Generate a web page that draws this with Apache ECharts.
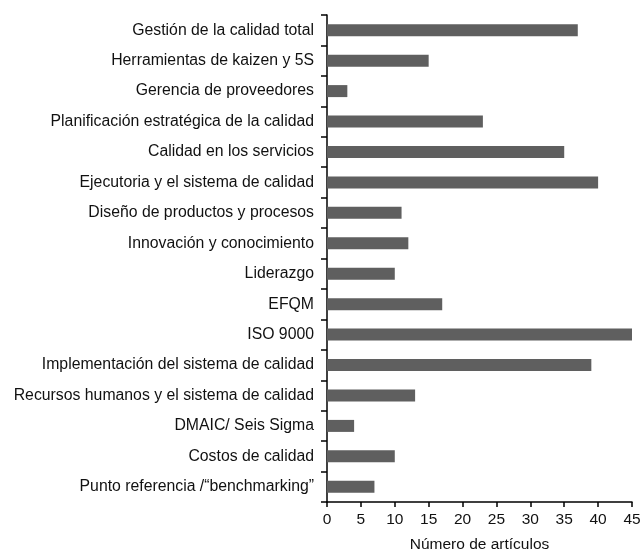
<!DOCTYPE html>
<html>
<head>
<meta charset="utf-8">
<script src="https://cdn.jsdelivr.net/npm/echarts@6/dist/echarts.min.js"></script>
<style>
html, body { margin: 0; padding: 0; background: #fff; }
#main { width: 643px; height: 550px; }
</style>
</head>
<body>
<div id="main"></div>
<script>
// categorias, de arriba hacia abajo
var categorias = [
    'Gestión de la calidad total',
    'Herramientas de kaizen y 5S',
    'Gerencia de proveedores',
    'Planificación estratégica de la calidad',
    'Calidad en los servicios',
    'Ejecutoria y el sistema de calidad',
    'Diseño de productos y procesos',
    'Innovación y conocimiento',
    'Liderazgo',
    'EFQM',
    'ISO 9000',
    'Implementación del sistema de calidad',
    'Recursos humanos y el sistema de calidad',
    'DMAIC/ Seis Sigma',
    'Costos de calidad',
    'Punto referencia /“benchmarking”'
];
var articulos = [37, 15, 3, 23, 35, 40, 11, 12, 10, 17, 45, 39, 13, 4, 10, 7];

var fuente = '"Liberation Sans", Arial, Helvetica, sans-serif';

var myChart = echarts.init(document.getElementById('main'));
var option = {
    animation: false,
    grid: {
        left: 327,
        width: 305,
        top: 15,
        height: 487,
        containLabel: false,
        outerBoundsMode: 'none'
    },
    xAxis: {
        type: 'value',
        min: 0,
        max: 45,
        interval: 5,
        name: 'Número de artículos',
        nameLocation: 'middle',
        nameGap: 35,
        nameTextStyle: { color: '#111', fontSize: 15.5, fontFamily: fuente },
        axisLine: { show: true, lineStyle: { color: '#000', width: 1.5 } },
        axisTick: { show: true, length: 5, lineStyle: { color: '#000', width: 1.5 } },
        axisLabel: { color: '#111', fontSize: 15.5, fontFamily: fuente, margin: 10 },
        splitLine: { show: false }
    },
    yAxis: {
        type: 'category',
        inverse: true,
        data: categorias,
        axisLine: { show: true, lineStyle: { color: '#000', width: 1.5 } },
        axisTick: { show: true, length: 6, alignWithLabel: false, lineStyle: { color: '#000', width: 1.5 } },
        axisLabel: { color: '#111', fontSize: 15.8, fontFamily: fuente, margin: 13 },
        splitLine: { show: false }
    },
    series: [{
        type: 'bar',
        data: articulos,
        barWidth: 12,
        itemStyle: { color: '#5f5f5f' }
    }]
};
myChart.setOption(option);
</script>
</body>
</html>
